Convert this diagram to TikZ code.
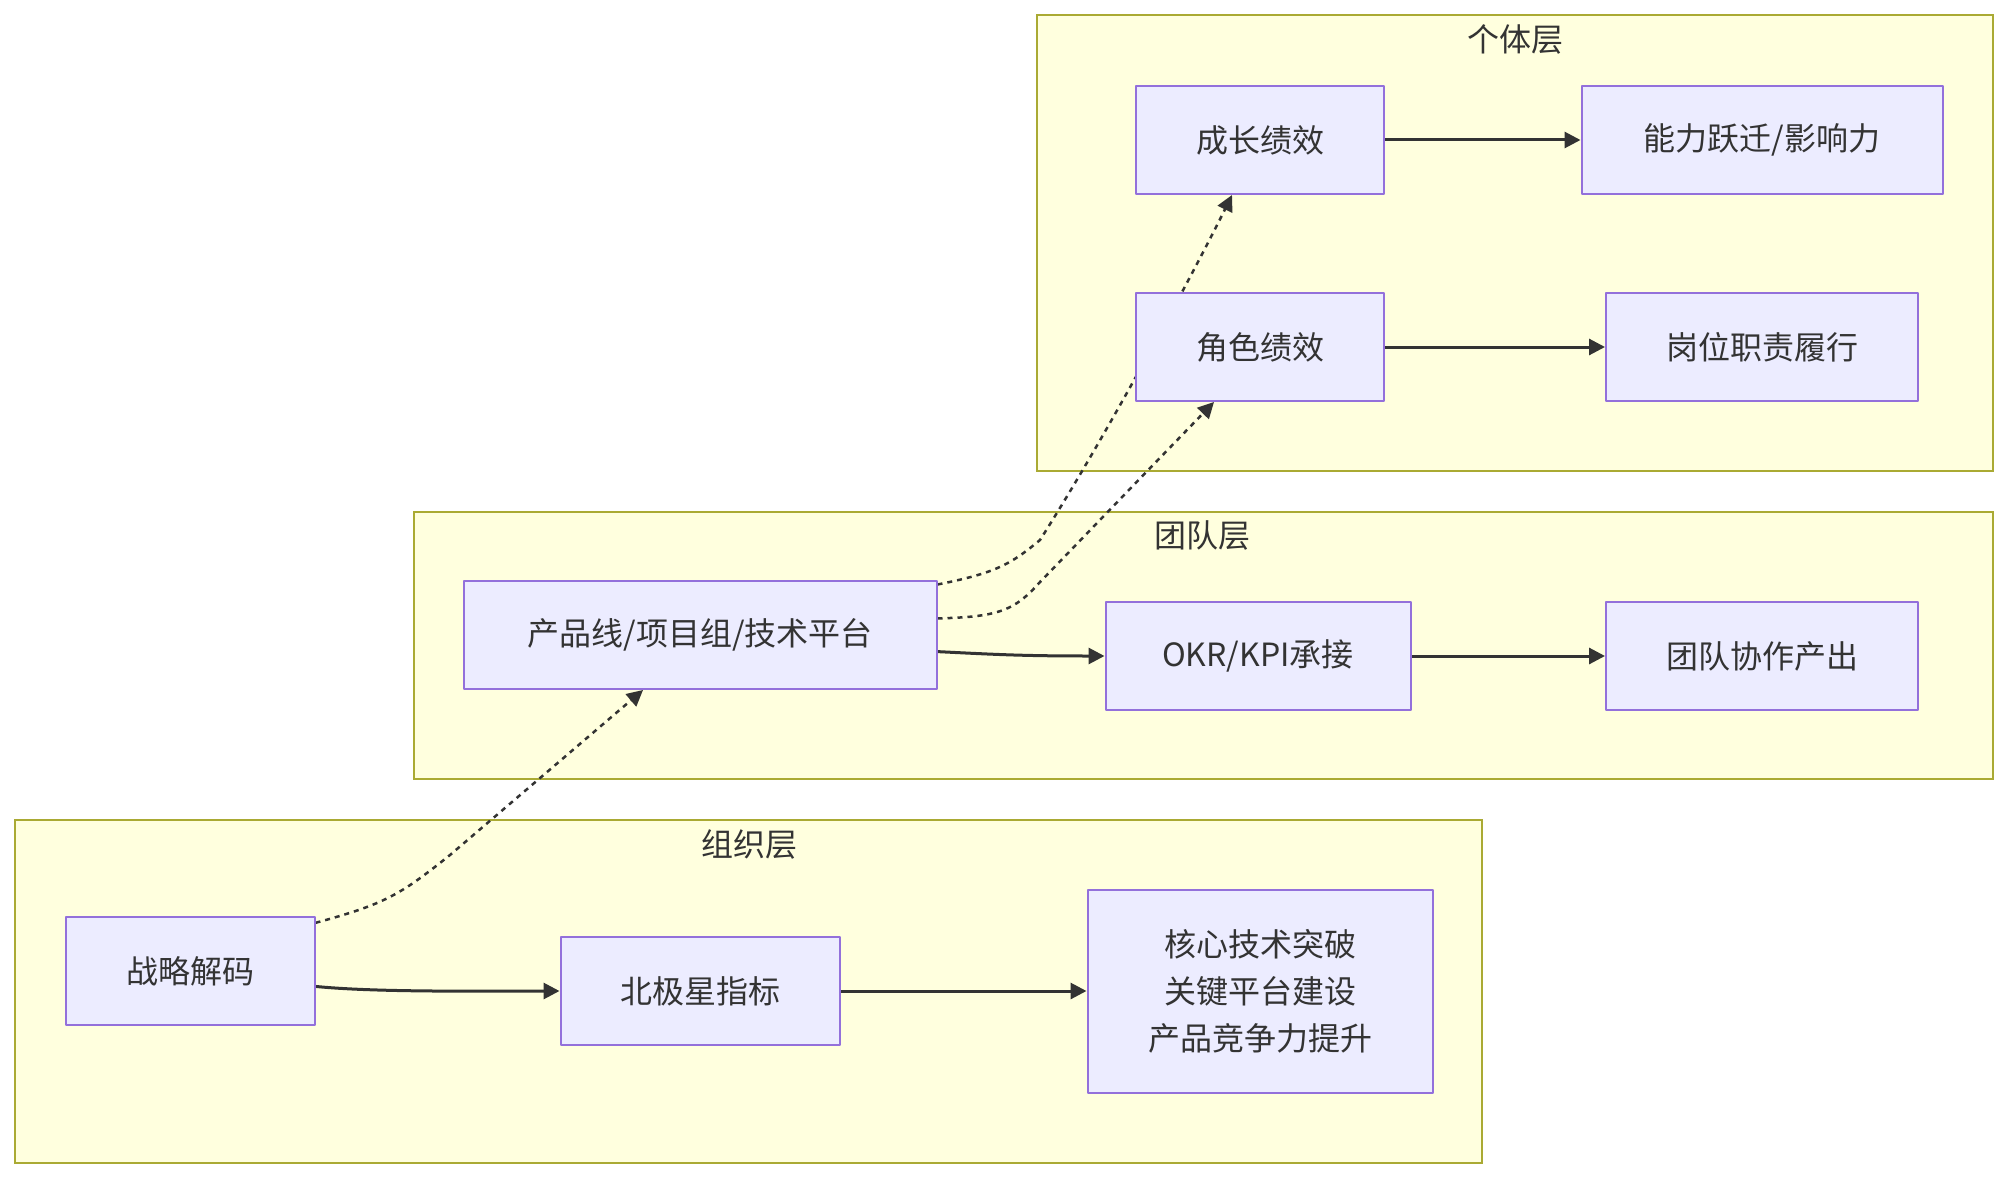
\documentclass[tikz,border=0pt]{standalone}
\usepackage{fontspec}
\newfontfamily\cjk{Noto Sans CJK SC}
\usetikzlibrary{arrows.meta,calc}
\definecolor{clfill}{HTML}{FFFFDE}
\definecolor{clline}{HTML}{AAAA33}
\definecolor{ndfill}{HTML}{ECECFF}
\definecolor{ndline}{HTML}{9370DB}
\definecolor{ink}{HTML}{333333}
\pgfdeclarelayer{back}
\pgfdeclarelayer{wire}
\pgfsetlayers{back,wire,main}
\begin{document}
\begin{tikzpicture}[x=1pt,y=-1pt,font=\cjk\fontsize{32}{47}\selectfont,text=ink,line join=round,>={Triangle[length=16pt,width=16pt]},
box/.style={draw=ndline,fill=ndfill,line width=2pt,inner sep=0pt,minimum width=#1,minimum height=108pt,align=center},
layer/.style={draw=clline,fill=clfill,line width=2.5pt},
flow/.style={draw=ink,line width=3pt,->},
link/.style={draw=ink,line width=2.5pt,dash pattern=on 5pt off 5pt,->}]
\useasboundingbox (0,0) rectangle (2008,1180);
% ba tầng
\begin{pgfonlayer}{back}
\path[layer] 
(1037,15) rectangle (1993,471) 
(414,512) rectangle (1993,779) 
(15,820) rectangle (1482,1163);
\end{pgfonlayer}
\path 
(1515,39) node (lind) {个体层}
(1202,535) node (lteam) {团队层}
(749,844) node (lorg) {组织层}
(1260,140) node[box=248pt] (grow) {成长绩效}
(1762,140) node[box=361pt] (leap) {能力跃迁/影响力}
(1260,347) node[box=248pt] (role) {角色绩效}
(1762,347) node[box=312pt] (duty) {岗位职责履行}
(700,635) node[box=473pt] (plat) {产品线/项目组/技术平台}
(1258,656) node[box=305pt] (okr) {OKR/KPI承接}
(1762,656) node[box=312pt] (coop) {团队协作产出}
(190,971) node[box=249pt] (decode) {战略解码}
(700,991) node[box=279pt] (star) {北极星指标}
(1260,991) node[box=345pt,minimum height=203pt] (core) {核心技术突破\\关键平台建设\\产品竞争力提升};
\begin{pgfonlayer}{wire}
\draw[flow] (decode.-7) .. controls +(60,6) and +(-80,0) .. (star.west);
\draw[flow] (star.east)--(core.west);
\draw[flow] (plat.-4) .. controls +(60,3) and +(-80,0) .. (okr.west);
\draw[flow] (okr.east)--(coop.west);
\draw[flow] (grow.east)--(leap.west);
\draw[flow] (role.east)--(duty.west);
\draw[link] (decode.21) .. controls (385,904) and (400,895) .. (450,855) -- ($(plat.south)+(-57,0)$);
\draw[link] (plat.4) .. controls (1000,617) and (1015,610) .. (1040,582) -- ($(role.south)+(-46,0)$);
\draw[link] (plat.12) .. controls (995,573) and (1010,565) .. (1040,540) .. controls (1110,430) and (1200,260) .. ($(grow.south)+(-28,0)$);
\end{pgfonlayer}
\end{tikzpicture}
\end{document}
